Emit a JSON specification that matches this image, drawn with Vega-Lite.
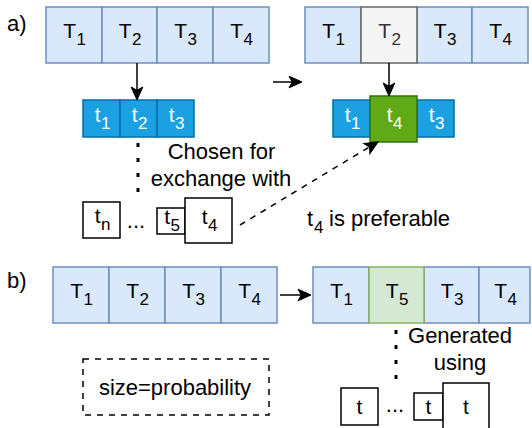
{
  "$schema": "https://vega.github.io/schema/vega-lite/v6.json",
  "width": 532,
  "height": 428,
  "padding": 0,
  "autosize": {"type": "fit", "contains": "padding"},
  "config": {"view": {"stroke": null}, "text": {"font": "Liberation Sans"}},
  "datasets": {
    "cells": [
      {"x": 46, "x2": 102, "y": 7, "y2": 63, "kind": "T"},
      {"x": 102, "x2": 157, "y": 7, "y2": 63, "kind": "T"},
      {"x": 157, "x2": 213, "y": 7, "y2": 63, "kind": "T"},
      {"x": 213, "x2": 269, "y": 7, "y2": 63, "kind": "T"},
      {"x": 305, "x2": 361, "y": 7, "y2": 63, "kind": "T"},
      {"x": 417, "x2": 472, "y": 7, "y2": 63, "kind": "T"},
      {"x": 472, "x2": 528, "y": 7, "y2": 63, "kind": "T"},
      {"x": 361, "x2": 417, "y": 7, "y2": 63, "kind": "Tsel"},
      {"x": 53, "x2": 109, "y": 267, "y2": 323, "kind": "T"},
      {"x": 109, "x2": 165, "y": 267, "y2": 323, "kind": "T"},
      {"x": 165, "x2": 221, "y": 267, "y2": 323, "kind": "T"},
      {"x": 221, "x2": 277, "y": 267, "y2": 323, "kind": "T"},
      {"x": 313, "x2": 369, "y": 267, "y2": 323, "kind": "T"},
      {"x": 424, "x2": 479, "y": 267, "y2": 323, "kind": "T"},
      {"x": 479, "x2": 530, "y": 267, "y2": 323, "kind": "T"},
      {"x": 369, "x2": 424, "y": 267, "y2": 323, "kind": "Tnew"},
      {"x": 83, "x2": 120, "y": 100, "y2": 137, "kind": "t"},
      {"x": 120, "x2": 157, "y": 100, "y2": 137, "kind": "t"},
      {"x": 157, "x2": 194, "y": 100, "y2": 137, "kind": "t"},
      {"x": 333, "x2": 370, "y": 100, "y2": 137, "kind": "t"},
      {"x": 417, "x2": 454, "y": 100, "y2": 137, "kind": "t"},
      {"x": 370, "x2": 417, "y": 96, "y2": 142, "kind": "tsel"},
      {"x": 83, "x2": 120, "y": 202, "y2": 238, "kind": "w"},
      {"x": 157, "x2": 185, "y": 208, "y2": 234, "kind": "w"},
      {"x": 185, "x2": 232, "y": 198, "y2": 243, "kind": "w"},
      {"x": 341, "x2": 378, "y": 388, "y2": 425, "kind": "w"},
      {"x": 414, "x2": 443, "y": 393, "y2": 420, "kind": "w"},
      {"x": 443, "x2": 489, "y": 383, "y2": 440, "kind": "w"}
    ],
    "labels": [
      {"x": 74, "y": 35, "main": "T", "sub": "1", "tone": "dark"},
      {"x": 129.5, "y": 35, "main": "T", "sub": "2", "tone": "dark"},
      {"x": 185, "y": 35, "main": "T", "sub": "3", "tone": "dark"},
      {"x": 241, "y": 35, "main": "T", "sub": "4", "tone": "dark"},
      {"x": 333, "y": 35, "main": "T", "sub": "1", "tone": "dark"},
      {"x": 389, "y": 35, "main": "T", "sub": "2", "tone": "gray"},
      {"x": 444.5, "y": 35, "main": "T", "sub": "3", "tone": "dark"},
      {"x": 500, "y": 35, "main": "T", "sub": "4", "tone": "dark"},
      {"x": 81, "y": 295, "main": "T", "sub": "1", "tone": "dark"},
      {"x": 137, "y": 295, "main": "T", "sub": "2", "tone": "dark"},
      {"x": 193, "y": 295, "main": "T", "sub": "3", "tone": "dark"},
      {"x": 249, "y": 295, "main": "T", "sub": "4", "tone": "dark"},
      {"x": 341, "y": 295, "main": "T", "sub": "1", "tone": "dark"},
      {"x": 396.5, "y": 295, "main": "T", "sub": "5", "tone": "dark"},
      {"x": 451.5, "y": 295, "main": "T", "sub": "3", "tone": "dark"},
      {"x": 505, "y": 295, "main": "T", "sub": "4", "tone": "dark"},
      {"x": 101.5, "y": 118.5, "main": "t", "sub": "1", "tone": "white"},
      {"x": 138.5, "y": 118.5, "main": "t", "sub": "2", "tone": "white"},
      {"x": 175.5, "y": 118.5, "main": "t", "sub": "3", "tone": "white"},
      {"x": 351.5, "y": 118.5, "main": "t", "sub": "1", "tone": "white"},
      {"x": 393.5, "y": 118.5, "main": "t", "sub": "4", "tone": "white"},
      {"x": 435.5, "y": 118.5, "main": "t", "sub": "3", "tone": "white"},
      {"x": 101.5, "y": 220, "main": "t", "sub": "n", "tone": "dark"},
      {"x": 171, "y": 221, "main": "t", "sub": "5", "tone": "dark"},
      {"x": 208.5, "y": 220.5, "main": "t", "sub": "4", "tone": "dark"},
      {"x": 359.5, "y": 406.5, "main": "t", "sub": "", "tone": "dark"},
      {"x": 428.5, "y": 406.5, "main": "t", "sub": "", "tone": "dark"},
      {"x": 466, "y": 406.5, "main": "t", "sub": "", "tone": "dark"}
    ],
    "centerNotes": [
      {"x": 221.5, "y": 159, "text": "Chosen for"},
      {"x": 221, "y": 186, "text": "exchange with"},
      {"x": 460, "y": 343, "text": "Generated"},
      {"x": 460, "y": 370, "text": "using"},
      {"x": 175, "y": 395, "text": "size=probability"}
    ],
    "leftNotes": [
      {"x": 7, "y": 31, "text": "a)"},
      {"x": 7, "y": 288, "text": "b)"},
      {"x": 307, "y": 226, "text": "t"},
      {"x": 329, "y": 226, "text": "is preferable"}
    ],
    "freeSubs": [
      {"x": 314, "y": 233, "text": "4"}
    ],
    "ellipses": [
      {"x": 136, "y": 228, "text": "..."},
      {"x": 395, "y": 412, "text": "..."}
    ],
    "solidLines": [
      {"x": 137, "y": 63, "x2": 137, "y2": 94},
      {"x": 389, "y": 63, "x2": 389, "y2": 90},
      {"x": 273, "y": 82, "x2": 296, "y2": 82},
      {"x": 280, "y": 295, "x2": 305, "y2": 295}
    ],
    "dottedLines": [
      {"x": 138, "y": 143, "x2": 138, "y2": 194},
      {"x": 396, "y": 330, "x2": 396, "y2": 379}
    ],
    "dashedLines": [
      {"x": 240, "y": 225, "x2": 371, "y2": 146}
    ],
    "dashedBoxes": [
      {"x": 83, "x2": 269, "y": 359, "y2": 415}
    ],
    "heads": [
      {"x": 137, "y": 100, "angle": 0},
      {"x": 389, "y": 96, "angle": 0},
      {"x": 302, "y": 82, "angle": 270},
      {"x": 311, "y": 295, "angle": 270},
      {"x": 378, "y": 142, "angle": 239}
    ]
  },
  "encoding": {
    "x": {"field": "x", "type": "quantitative", "scale": {"domain": [0, 532], "nice": false, "zero": false}, "axis": null},
    "y": {"field": "y", "type": "quantitative", "scale": {"domain": [0, 428], "nice": false, "zero": false, "reverse": true}, "axis": null}
  },
  "layer": [
    {
      "data": {"name": "cells"},
      "mark": {"type": "rect", "strokeWidth": 1.5, "clip": true},
      "encoding": {
        "x2": {"field": "x2"},
        "y2": {"field": "y2"},
        "fill": {"field": "kind", "type": "nominal", "legend": null,
          "scale": {"domain": ["T", "Tsel", "Tnew", "t", "tsel", "w"], "range": ["#dae8fc", "#f5f5f5", "#d5e8d4", "#1ba1e2", "#60a917", "#ffffff"]}},
        "stroke": {"field": "kind", "type": "nominal", "legend": null,
          "scale": {"domain": ["T", "Tsel", "Tnew", "t", "tsel", "w"], "range": ["#6c8ebf", "#666666", "#82b366", "#006eaf", "#2d7600", "#000000"]}}
      }
    },
    {
      "data": {"name": "dashedBoxes"},
      "mark": {"type": "rect", "fill": null, "fillOpacity": 0, "stroke": "#000000", "strokeWidth": 1.5, "strokeDash": [6, 6]},
      "encoding": {"x2": {"field": "x2"}, "y2": {"field": "y2"}}
    },
    {
      "data": {"name": "solidLines"},
      "mark": {"type": "rule", "stroke": "#000000", "strokeWidth": 1.5},
      "encoding": {"x2": {"field": "x2"}, "y2": {"field": "y2"}}
    },
    {
      "data": {"name": "dottedLines"},
      "mark": {"type": "rule", "stroke": "#000000", "strokeWidth": 3, "strokeDash": [4, 11], "strokeCap": "butt"},
      "encoding": {"x2": {"field": "x2"}, "y2": {"field": "y2"}}
    },
    {
      "data": {"name": "dashedLines"},
      "mark": {"type": "rule", "stroke": "#000000", "strokeWidth": 1.5, "strokeDash": [6, 6]},
      "encoding": {"x2": {"field": "x2"}, "y2": {"field": "y2"}}
    },
    {
      "data": {"name": "heads"},
      "mark": {"type": "point", "shape": "M0,0 L-0.9,-2 L0,-1.5 L0.9,-2 Z", "filled": true, "fill": "#000000", "stroke": "#000000", "strokeWidth": 1, "opacity": 1, "size": 169},
      "encoding": {"angle": {"field": "angle", "type": "quantitative", "scale": null}}
    },
    {
      "data": {"name": "labels"},
      "transform": [{"filter": "datum.main == 'T'"}],
      "mark": {"type": "text", "fontSize": 21, "align": "right", "baseline": "alphabetic", "dx": 2, "dy": 3},
      "encoding": {
        "text": {"field": "main"},
        "color": {"field": "tone", "type": "nominal", "legend": null, "scale": {"domain": ["dark", "gray", "white"], "range": ["#000000", "#333333", "#ffffff"]}}
      }
    },
    {
      "data": {"name": "labels"},
      "transform": [{"filter": "datum.main == 'T'"}],
      "mark": {"type": "text", "fontSize": 17, "align": "left", "baseline": "alphabetic", "dx": 2.5, "dy": 10},
      "encoding": {
        "text": {"field": "sub"},
        "color": {"field": "tone", "type": "nominal", "legend": null, "scale": {"domain": ["dark", "gray", "white"], "range": ["#000000", "#333333", "#ffffff"]}}
      }
    },
    {
      "data": {"name": "labels"},
      "transform": [{"filter": "datum.main == 't' && datum.sub != ''"}],
      "mark": {"type": "text", "fontSize": 21, "align": "right", "baseline": "alphabetic", "dx": -1, "dy": 3},
      "encoding": {
        "text": {"field": "main"},
        "color": {"field": "tone", "type": "nominal", "legend": null, "scale": {"domain": ["dark", "gray", "white"], "range": ["#000000", "#333333", "#ffffff"]}}
      }
    },
    {
      "data": {"name": "labels"},
      "transform": [{"filter": "datum.main == 't' && datum.sub != ''"}],
      "mark": {"type": "text", "fontSize": 17, "align": "left", "baseline": "alphabetic", "dx": -0.5, "dy": 10},
      "encoding": {
        "text": {"field": "sub"},
        "color": {"field": "tone", "type": "nominal", "legend": null, "scale": {"domain": ["dark", "gray", "white"], "range": ["#000000", "#333333", "#ffffff"]}}
      }
    },
    {
      "data": {"name": "labels"},
      "transform": [{"filter": "datum.sub == ''"}],
      "mark": {"type": "text", "fontSize": 21, "align": "center", "baseline": "alphabetic", "dy": 7, "fill": "#000000"},
      "encoding": {"text": {"field": "main"}}
    },
    {
      "data": {"name": "centerNotes"},
      "mark": {"type": "text", "fontSize": 22, "align": "center", "baseline": "alphabetic", "fill": "#000000"},
      "encoding": {"text": {"field": "text"}}
    },
    {
      "data": {"name": "leftNotes"},
      "mark": {"type": "text", "fontSize": 22, "align": "left", "baseline": "alphabetic", "fill": "#000000"},
      "encoding": {"text": {"field": "text"}}
    },
    {
      "data": {"name": "freeSubs"},
      "mark": {"type": "text", "fontSize": 17, "align": "left", "baseline": "alphabetic", "fill": "#000000"},
      "encoding": {"text": {"field": "text"}}
    },
    {
      "data": {"name": "ellipses"},
      "mark": {"type": "text", "fontSize": 22, "align": "center", "baseline": "alphabetic", "fill": "#000000"},
      "encoding": {"text": {"field": "text"}}
    }
  ]
}
